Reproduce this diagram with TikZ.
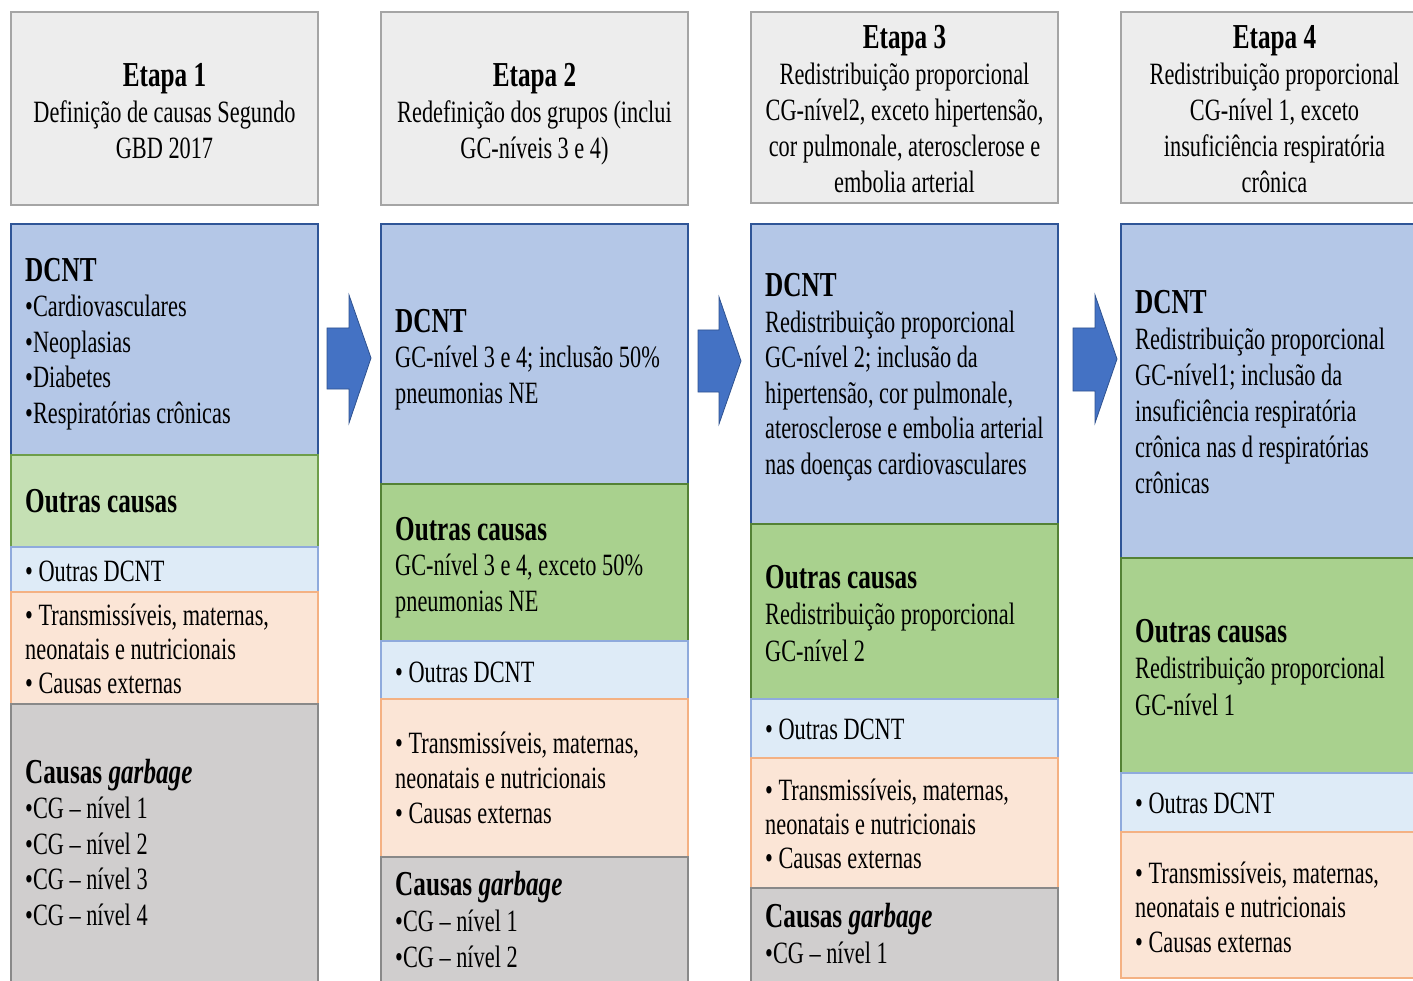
\documentclass[tikz,border=0pt]{standalone}
\usepackage{fontspec}
\setmainfont{Liberation Serif}[FakeStretch=0.72]
\definecolor{hdrfill}{HTML}{EDEDED}
\definecolor{hdrline}{HTML}{A5A5A5}
\definecolor{blufill}{HTML}{B4C7E7}
\definecolor{bluline}{HTML}{2F5597}
\definecolor{grnAfill}{HTML}{C5E0B4}
\definecolor{grnAline}{HTML}{6E9E4A}
\definecolor{grnfill}{HTML}{A9D18E}
\definecolor{grnline}{HTML}{548235}
\definecolor{lbfill}{HTML}{DEEBF7}
\definecolor{lbline}{HTML}{8FAADC}
\definecolor{pchfill}{HTML}{FBE5D6}
\definecolor{pchline}{HTML}{F4B183}
\definecolor{gryfill}{HTML}{D0CECE}
\definecolor{gryline}{HTML}{898989}
\definecolor{arrfill}{HTML}{4472C4}
\definecolor{arrline}{HTML}{2F528F}
\newcommand{\bh}[1]{{\bfseries\fontsize{35}{35.5}\selectfont #1}}
\tikzset{
  hdr/.style={fill=hdrfill, draw=hdrline, line width=2pt},
  blu/.style={fill=blufill, draw=bluline, line width=2pt},
  grnA/.style={fill=grnAfill, draw=grnAline, line width=2pt},
  grn/.style={fill=grnfill, draw=grnline, line width=2pt},
  lbl/.style={fill=lbfill, draw=lbline, line width=2pt},
  pch/.style={fill=pchfill, draw=pchline, line width=2pt},
  gry/.style={fill=gryfill, draw=gryline, line width=2pt},
  txt/.style={anchor=base west, inner sep=0pt, align=left, font=\fontsize{31}{35.5}\selectfont},
  htxt/.style={anchor=base, inner sep=0pt, align=center, font=\fontsize{31}{36}\selectfont},
  blockarrow/.style={fill=arrfill, draw=arrline, line width=0.8pt, line join=miter}
}
\begin{document}
% text nodes are placed by the baseline of their LAST line
\begin{tikzpicture}[x=1pt, y=-1pt]
\useasboundingbox (0,0) rectangle (1413,981);
\clip (0,0) rectangle (1413,981);
% ---------- column 1 ----------
\draw[hdr] (11,12) rectangle (318,205);
\draw[blu] (11,224) rectangle (318,455);
\draw[grnA] (11,455) rectangle (318,547);
\draw[lbl] (11,547) rectangle (318,592);
\draw[pch] (11,592) rectangle (318,704);
\draw[gry] (11,704) rectangle (318,1000);
\node[htxt] (h1) at (164.5,159) {\bh{Etapa 1}\\Definição de causas Segundo\\GBD 2017};
\node[txt] (d1) at (25,423) {\bh{DCNT}\\•Cardiovasculares\\•Neoplasias\\•Diabetes\\•Respiratórias crônicas};
\node[txt] (o1) at (25,512) {\bh{Outras causas}};
\node[txt] (l1) at (25,581) {• Outras DCNT};
\node[txt, font=\fontsize{31}{34}\selectfont] (p1) at (25,693) {• Transmissíveis, maternas,\\neonatais e nutricionais\\• Causas externas};
\node[txt] (g1) at (25,925) {\bh{Causas \itshape garbage}\\•CG – nível 1\\•CG – nível 2\\•CG – nível 3\\•CG – nível 4};
% ---------- column 2 ----------
\draw[hdr] (381,12) rectangle (688,205);
\draw[blu] (381,224) rectangle (688,484);
\draw[grn] (381,484) rectangle (688,641);
\draw[lbl] (381,641) rectangle (688,699);
\draw[pch] (381,699) rectangle (688,857);
\draw[gry] (381,857) rectangle (688,1000);
\node[htxt] (h2) at (534.5,159) {\bh{Etapa 2}\\Redefinição dos grupos (inclui\\GC-níveis 3 e 4)};
\node[txt] (d2) at (395,403) {\bh{DCNT}\\GC-nível 3 e 4; inclusão 50\%\\pneumonias NE};
\node[txt] (o2) at (395,611) {\bh{Outras causas}\\GC-nível 3 e 4, exceto 50\%\\pneumonias NE};
\node[txt] (l2) at (395,682) {• Outras DCNT};
\node[txt, font=\fontsize{31}{35}\selectfont] (p2) at (395,823) {• Transmissíveis, maternas,\\neonatais e nutricionais\\• Causas externas};
\node[txt, font=\fontsize{31}{36}\selectfont] (g2) at (395,967) {\bh{Causas \itshape garbage}\\•CG – nível 1\\•CG – nível 2};
% ---------- column 3 ----------
\draw[hdr] (751,12) rectangle (1058,203);
\draw[blu] (751,224) rectangle (1058,524);
\draw[grn] (751,524) rectangle (1058,699);
\draw[lbl] (751,699) rectangle (1058,758);
\draw[pch] (751,758) rectangle (1058,888);
\draw[gry] (751,888) rectangle (1058,1000);
\node[htxt] (h3) at (904.5,193) {\bh{Etapa 3}\\Redistribuição proporcional\\CG-nível2, exceto hipertensão,\\cor pulmonale, aterosclerose e\\embolia arterial};
\node[txt] (d3) at (765,474) {\bh{DCNT}\\Redistribuição proporcional\\GC-nível 2; inclusão da\\hipertensão, cor pulmonale,\\aterosclerose e embolia arterial\\nas doenças cardiovasculares};
\node[txt, font=\fontsize{31}{36.5}\selectfont] (o3) at (765,661) {\bh{Outras causas}\\Redistribuição proporcional\\GC-nível 2};
\node[txt] (l3) at (765,739) {• Outras DCNT};
\node[txt, font=\fontsize{31}{34}\selectfont] (p3) at (765,868) {• Transmissíveis, maternas,\\neonatais e nutricionais\\• Causas externas};
\node[txt, font=\fontsize{31}{36}\selectfont] (g3) at (765,963) {\bh{Causas \itshape garbage}\\•CG – nível 1};
% ---------- column 4 ----------
\draw[hdr] (1121,12) rectangle (1428,203);
\draw[blu] (1121,224) rectangle (1428,558);
\draw[grn] (1121,558) rectangle (1428,773);
\draw[lbl] (1121,773) rectangle (1428,832);
\draw[pch] (1121,832) rectangle (1428,978);
\node[htxt] (h4) at (1274.5,193) {\bh{Etapa 4}\\Redistribuição proporcional\\CG-nível 1, exceto\\insuficiência respiratória\\crônica};
\node[txt, font=\fontsize{31}{36}\selectfont] (d4) at (1135,493) {\bh{DCNT}\\Redistribuição proporcional\\GC-nível1; inclusão da\\insuficiência respiratória\\crônica nas d respiratórias\\crônicas};
\node[txt, font=\fontsize{31}{36.5}\selectfont] (o4) at (1135,715) {\bh{Outras causas}\\Redistribuição proporcional\\GC-nível 1};
\node[txt] (l4) at (1135,813) {• Outras DCNT};
\node[txt, font=\fontsize{31}{34.5}\selectfont] (p4) at (1135,952) {• Transmissíveis, maternas,\\neonatais e nutricionais\\• Causas externas};
% ---------- block arrows ----------
\draw[blockarrow] (327,328) -- (349,328) -- (349,295) -- (371,358) -- (349,423) -- (349,389) -- (327,389) -- cycle;
\draw[blockarrow] (698,330) -- (719,330) -- (719,297) -- (741,361) -- (719,424) -- (719,392) -- (698,392) -- cycle;
\draw[blockarrow] (1073,328) -- (1095,328) -- (1095,295) -- (1117,359) -- (1095,423) -- (1095,391) -- (1073,391) -- cycle;
\end{tikzpicture}
\end{document}
